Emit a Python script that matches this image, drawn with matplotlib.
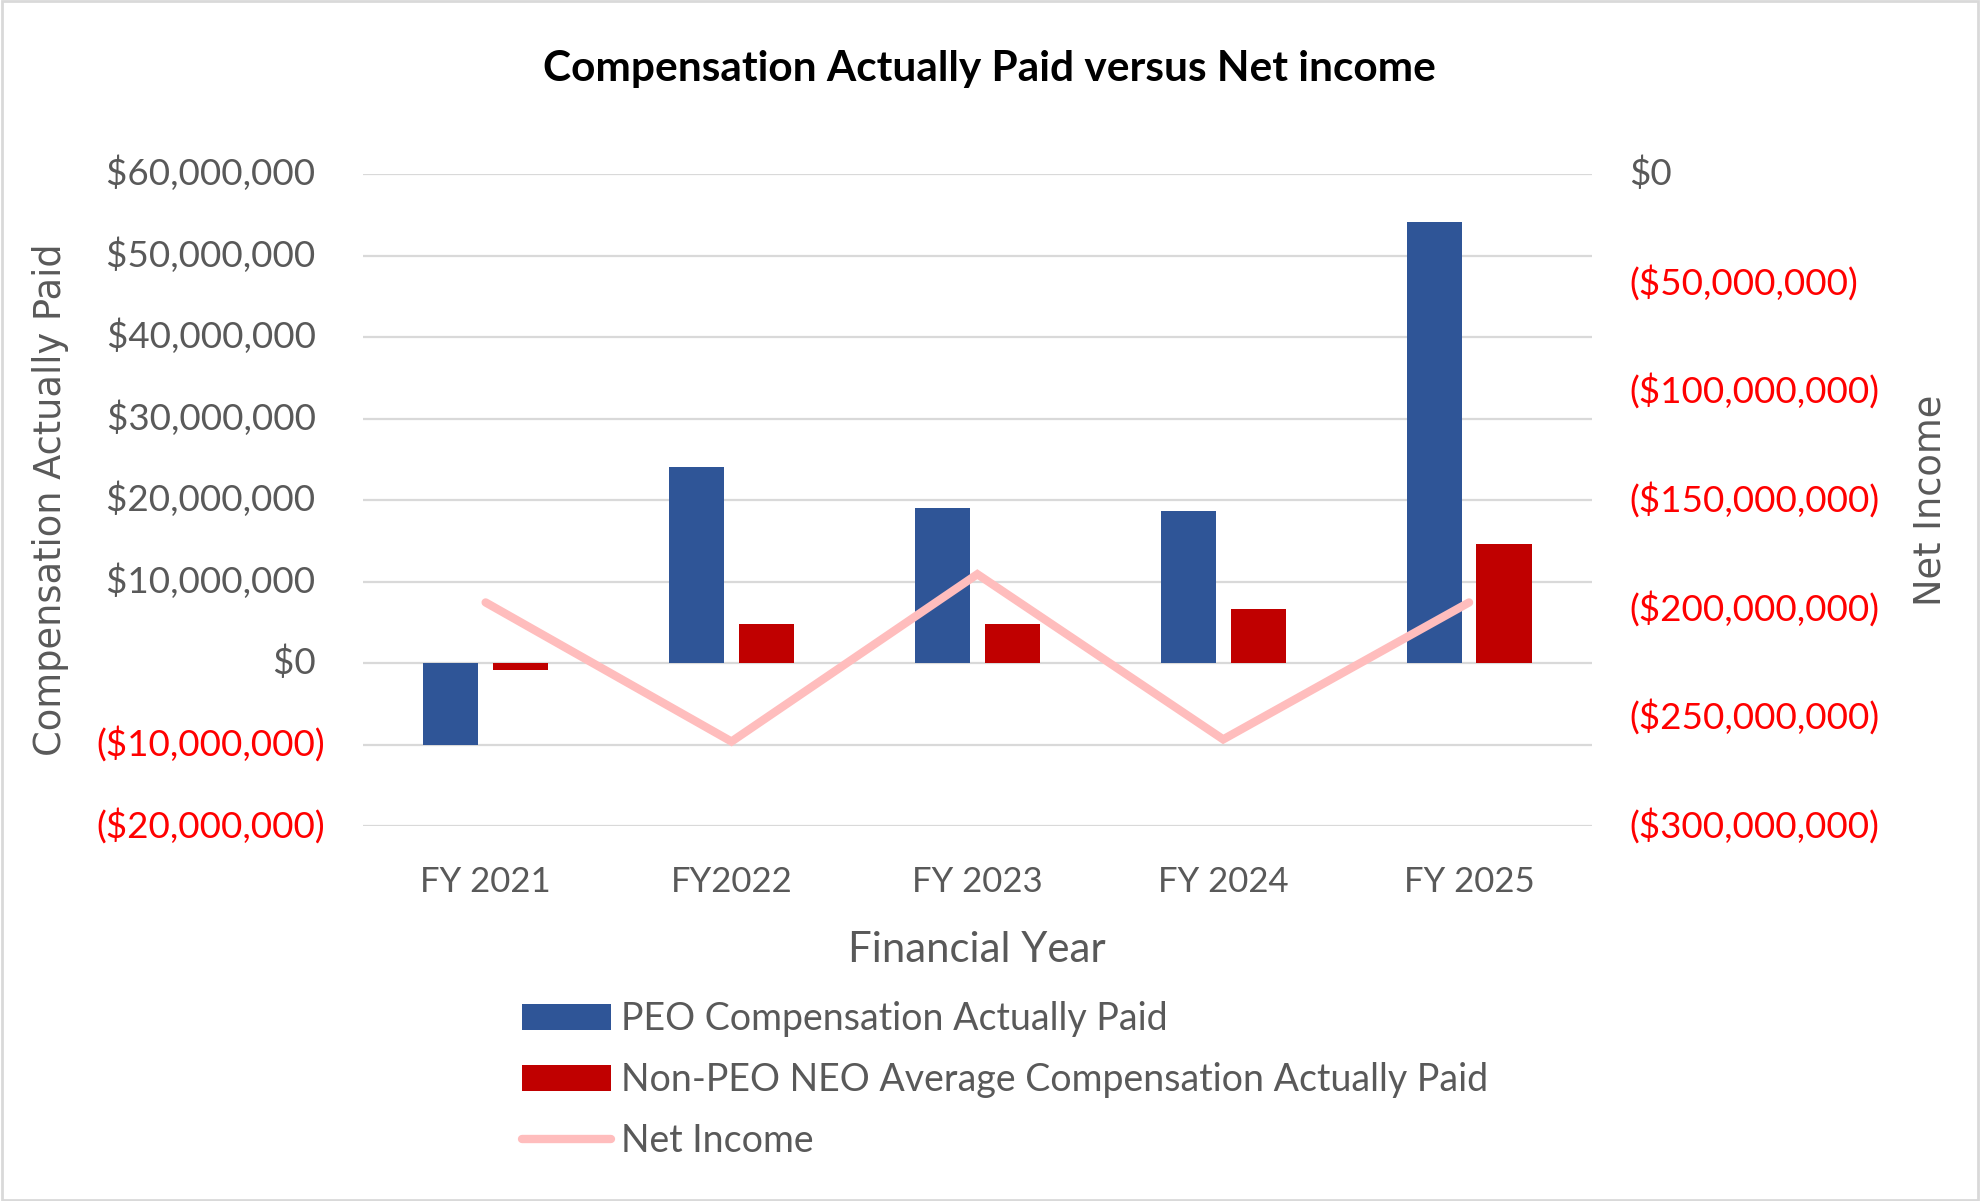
import matplotlib.pyplot as plt
from matplotlib.lines import Line2D
from matplotlib.patches import Patch, Rectangle
from matplotlib.transforms import ScaledTranslation
import numpy as np

# ---------------------------------------------------------------------------
# Data
# ---------------------------------------------------------------------------
YEARS = ["FY 2021", "FY2022", "FY 2023", "FY 2024", "FY 2025"]
PEO_CAP = [-10.0e6, 24.1e6, 19.0e6, 18.65e6, 54.1e6]
NEO_CAP = [-0.8e6, 4.8e6, 4.8e6, 6.65e6, 14.6e6]
NET_INCOME = [-197e6, -261e6, -184e6, -260e6, -197e6]

LEFT_TICKS = [-20e6, -10e6, 0, 10e6, 20e6, 30e6, 40e6, 50e6, 60e6]
RIGHT_TICKS = [-300e6, -250e6, -200e6, -150e6, -100e6, -50e6, 0]

SERIES_LABELS = [
    "PEO Compensation Actually Paid",
    "Non-PEO NEO Average Compensation Actually Paid",
    "Net Income",
]

BLUE = "#2F5597"
RED = "#C00000"
PINK = "#FFBDBD"
GRAY = "#595959"
NEG_RED = "#FF0000"
GRID = "#D9D9D9"

FONT = "Lato"
W, H = 1980, 1201


def money(value, pad_positive=False):
    """Excel-style accounting label: ($x) for negatives."""
    if value < 0:
        return f"(${-value:,.0f})"
    return f"${value:,.0f}" + (" " if pad_positive else "")


fig = plt.figure(figsize=(W / 100, H / 100), dpi=100)
fig.patch.set_facecolor("white")

left, right, top, bottom = 362.7, 1592.0, 174.3, 826.3
ax = fig.add_axes([left / W, 1 - bottom / H, (right - left) / W, (bottom - top) / H])
ax2 = ax.twinx()

x = np.arange(len(YEARS))
bar_w = 0.224
offset = 0.142

ax.bar(x - offset, PEO_CAP, width=bar_w, color=BLUE, zorder=2)
ax.bar(x + offset, NEO_CAP, width=bar_w, color=RED, zorder=2)
ax2.plot(x, NET_INCOME, color=PINK, lw=6, solid_capstyle="round",
         solid_joinstyle="miter", zorder=3)

ax.set_xlim(-0.5, len(YEARS) - 0.5)
ax.set_ylim(LEFT_TICKS[0], LEFT_TICKS[-1])
ax2.set_ylim(RIGHT_TICKS[0], RIGHT_TICKS[-1])

ax.set_axisbelow(True)
ax.yaxis.grid(True, color=GRID, lw=1.6)
ax.xaxis.grid(False)

ax.tick_params(axis="y", length=0, pad=27.2)
ax.tick_params(axis="x", length=0, pad=28.5)
ax2.tick_params(axis="y", length=0, pad=27)

ax.set_xticks(x)
ax.set_xticklabels(YEARS, fontsize=25, color=GRAY, fontfamily=FONT)
ax.set_yticks(LEFT_TICKS)
ax.set_yticklabels([money(v, pad_positive=True) for v in LEFT_TICKS],
                   fontsize=26.5, fontfamily=FONT)
ax2.set_yticks(RIGHT_TICKS)
ax2.set_yticklabels([money(v) for v in RIGHT_TICKS], fontsize=26.5, fontfamily=FONT)

# negative values in red, labels nudged up a little to sit on the gridlines
nudge = ScaledTranslation(0, 3.8 / 100, fig.dpi_scale_trans)
for axis_, ticks in ((ax, LEFT_TICKS), (ax2, RIGHT_TICKS)):
    for lbl, v in zip(axis_.get_yticklabels(), ticks):
        lbl.set_color(NEG_RED if v < 0 else GRAY)
        lbl.set_transform(lbl.get_transform() + nudge)

for a in (ax, ax2):
    for s in a.spines.values():
        s.set_visible(False)

# Titles
fig.text(989 / W, 1 - 68.5 / H, "Compensation Actually Paid versus Net income",
         ha="center", va="center", fontsize=30.5, fontweight="bold",
         fontfamily=FONT, color="black")
fig.text(977 / W, 1 - 949.5 / H, "Financial Year", ha="center", va="center",
         fontsize=30.2, fontfamily=FONT, color=GRAY)
fig.text(51 / W, 1 - 500 / H, "Compensation Actually Paid", rotation=90,
         ha="center", va="center", fontsize=26.5, fontfamily="DejaVu Sans",
         color=GRAY)
fig.text(1930 / W, 1 - 500 / H, "Net Income", rotation=90,
         ha="center", va="center", fontsize=26.5, fontfamily="DejaVu Sans",
         color=GRAY)

# Legend
handles = [
    Patch(facecolor=BLUE),
    Patch(facecolor=RED),
    Line2D([0], [0], color=PINK, lw=6, solid_capstyle="round"),
]
fig.legend(handles, SERIES_LABELS, loc="upper left",
           bbox_to_anchor=(522 / W, 1 - 1001 / H), frameon=False,
           prop={"family": FONT, "size": 27}, labelcolor=GRAY,
           handlelength=2.36, handleheight=0.69, handletextpad=0.27,
           labelspacing=0.67, borderpad=0, borderaxespad=0)

# Light frame around the whole chart
fig.patches.append(Rectangle((0.001, 0.001), 0.998, 0.998, transform=fig.transFigure,
                             fill=False, ec=GRID, lw=2))

fig.savefig("out.png", dpi=100)
